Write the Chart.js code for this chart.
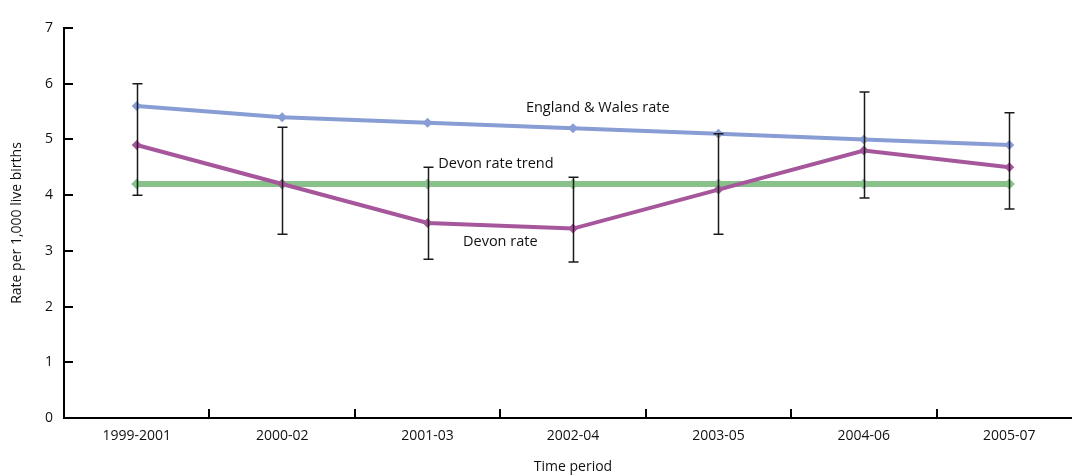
<!DOCTYPE html>
<html>
<head>
<meta charset="utf-8">
<script src="https://cdn.jsdelivr.net/npm/chart.js@4/dist/chart.umd.min.js"></script>
<style>
    html, body { margin: 0; padding: 0; background: #fff; overflow: hidden; }
    #wrap { width: 1072px; height: 476px; overflow: hidden; }
</style>
</head>
<body>
<div id="wrap"><canvas id="rateChart" width="1090" height="476"></canvas></div>
<script>
const periods = ['1999-2001', '2000-02', '2001-03', '2002-04', '2003-05', '2004-06', '2005-07'];
const englandWalesRate = [5.6, 5.4, 5.3, 5.2, 5.1, 5.0, 4.9];
const devonRate = [4.9, 4.2, 3.5, 3.4, 4.1, 4.8, 4.5];
const devonTrend = [4.2, 4.2, 4.2, 4.2, 4.2, 4.2, 4.2];
const devonLower = [4.0, 3.3, 2.85, 2.8, 3.3, 3.95, 3.75];
const devonUpper = [6.0, 5.22, 4.5, 4.32, 5.1, 5.85, 5.48];
const yTicks = [0, 1, 2, 3, 4, 5, 6, 7];

const FONT = '"Open Sans", "DejaVu Sans", sans-serif';
const TEXT = '#111';

// inward tick marks on both axes
const innerTicks = {
    id: 'innerTicks',
    afterDraw(chart) {
        const { ctx, chartArea, scales: { x, y } } = chart;
        ctx.save();
        ctx.strokeStyle = '#000';
        ctx.lineWidth = 2;
        ctx.beginPath();
        yTicks.forEach(v => {
            const py = Math.round(y.getPixelForValue(v));
            ctx.moveTo(chartArea.left, py);
            ctx.lineTo(chartArea.left + 9, py);
        });
        const step = x.getPixelForValue(1) - x.getPixelForValue(0);
        for (let i = 0; i < periods.length; i++) {
            const px = Math.round(x.getPixelForValue(i) + step / 2);
            ctx.moveTo(px, chartArea.bottom);
            ctx.lineTo(px, chartArea.bottom - 9);
        }
        ctx.stroke();
        ctx.restore();
    }
};

// confidence interval bars on the Devon rate
const errorBars = {
    id: 'errorBars',
    afterDatasetsDraw(chart) {
        const { ctx, scales: { x, y } } = chart;
        ctx.save();
        ctx.strokeStyle = '#1a1a1a';
        ctx.lineWidth = 1.5;
        ctx.beginPath();
        devonLower.forEach((lo, i) => {
            const px = Math.round(x.getPixelForValue(i)) + 0.5;
            const top = y.getPixelForValue(devonUpper[i]);
            const bot = y.getPixelForValue(lo);
            ctx.moveTo(px, top);
            ctx.lineTo(px, bot);
            ctx.moveTo(px - 5, top);
            ctx.lineTo(px + 5, top);
            ctx.moveTo(px - 5, bot);
            ctx.lineTo(px + 5, bot);
        });
        ctx.stroke();
        ctx.restore();
    }
};

// series labels placed on the plot
const seriesLabels = {
    id: 'seriesLabels',
    afterDraw(chart) {
        const { ctx, scales: { x, y } } = chart;
        ctx.save();
        ctx.fillStyle = TEXT;
        ctx.font = '14.5px ' + FONT;
        ctx.textAlign = 'center';
        ctx.textBaseline = 'middle';
        ctx.fillText('England & Wales rate', x.getPixelForValue(3.17), y.getPixelForValue(5.56));
        ctx.fillText('Devon rate trend', x.getPixelForValue(2.47), y.getPixelForValue(4.56));
        ctx.fillText('Devon rate', x.getPixelForValue(2.5), y.getPixelForValue(3.16));
        ctx.restore();
    }
};

const ctx = document.getElementById('rateChart').getContext('2d');
const rateChart = new Chart(ctx, {
    type: 'line',
    data: {
        labels: periods,
        datasets: [
            {
                label: 'Devon rate',
                data: devonRate,
                borderColor: '#a6579c',
                backgroundColor: '#a6579c',
                borderWidth: 4,
                pointStyle: 'rectRot',
                pointRadius: 5,
                pointBorderWidth: 0,
                tension: 0
            },
            {
                label: 'England & Wales rate',
                data: englandWalesRate,
                borderColor: '#879dd4',
                backgroundColor: '#879dd4',
                borderWidth: 4,
                pointStyle: 'rectRot',
                pointRadius: 5,
                pointBorderWidth: 0,
                tension: 0
            },
            {
                label: 'Devon rate trend',
                data: devonTrend,
                borderColor: '#88c28a',
                backgroundColor: '#88c28a',
                borderWidth: 6,
                pointStyle: 'rectRot',
                pointRadius: 5.5,
                pointBorderWidth: 0,
                tension: 0
            }
        ]
    },
    options: {
        responsive: false,
        animation: false,
        layout: { padding: { top: 28, right: 8, left: 0, bottom: 0 } },
        plugins: {
            legend: { display: false },
            tooltip: { enabled: false }
        },
        scales: {
            x: {
                offset: true,
                grid: { display: true, drawOnChartArea: false, drawTicks: false },
                border: { display: true, color: '#000', width: 2 },
                ticks: { color: TEXT, font: { family: FONT, size: 14 }, padding: 10, maxRotation: 0 },
                title: { display: true, text: 'Time period', color: TEXT, font: { family: FONT, size: 14 }, padding: { top: 0, bottom: 1 } },
                afterFit(scale) { scale.height = 58; }
            },
            y: {
                min: 0,
                max: 7,
                grid: { display: true, drawOnChartArea: false, drawTicks: false },
                border: { display: true, color: '#000', width: 2 },
                ticks: { stepSize: 1, color: TEXT, font: { family: FONT, size: 14 }, padding: 11 },
                title: { display: true, text: 'Rate per 1,000 live births', color: TEXT, font: { family: FONT, size: 14 }, padding: { top: 9, bottom: 0 } },
                afterFit(scale) { scale.width = 64; }
            }
        }
    },
    plugins: [innerTicks, errorBars, seriesLabels]
});
</script>
</body>
</html>
